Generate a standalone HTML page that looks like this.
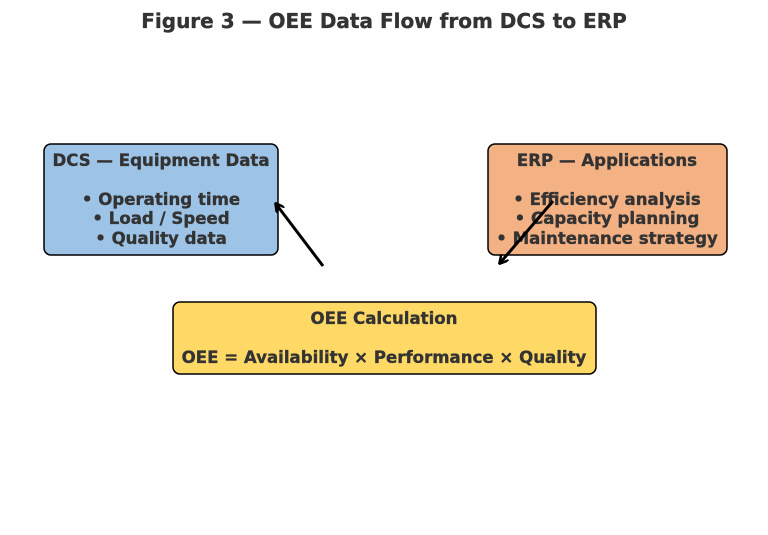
<!DOCTYPE html>
<html><head><meta charset="utf-8"><style>
html,body{margin:0;padding:0;background:#fefefe;}
svg{display:block;}
text{font-family:"DejaVu Sans","Liberation Sans",sans-serif;font-weight:bold;fill:#333;stroke:#333;stroke-width:0.35;}
</style></head><body>
<svg width="768" height="535" viewBox="0 0 768 535" xmlns="http://www.w3.org/2000/svg">
<defs>
<marker id="ah" markerWidth="10" markerHeight="10" refX="8" refY="5" orient="auto" markerUnits="userSpaceOnUse">
<path d="M0,0 L9,5 L0,10" fill="none" stroke="#000" stroke-width="2.5"/>
</marker>
</defs>
<text x="384" y="28" font-size="20" text-anchor="middle">Figure 3 — OEE Data Flow from DCS to ERP</text>
<rect x="44" y="144" width="234" height="111" rx="7" fill="#9dc3e6" stroke="#000" stroke-width="1.5"/>
<g font-size="16.6" text-anchor="middle">
<text x="161" y="166">DCS — Equipment Data</text>
<text x="161" y="205">• Operating time</text>
<text x="161" y="224">• Load / Speed</text>
<text x="161" y="244">• Quality data</text>
</g>
<rect x="488" y="144" width="239" height="111" rx="7" fill="#f4b183" stroke="#000" stroke-width="1.5"/>
<g font-size="16.6" text-anchor="middle">
<text x="607" y="166">ERP — Applications</text>
<text x="607" y="205">• Efficiency analysis</text>
<text x="607" y="224">• Capacity planning</text>
<text x="607" y="244">• Maintenance strategy</text>
</g>
<rect x="173" y="302" width="423" height="72" rx="7" fill="#ffd966" stroke="#000" stroke-width="1.5"/>
<g font-size="16.6" text-anchor="middle">
<text x="384" y="324">OEE Calculation</text>
<text x="384" y="363">OEE = Availability × Performance × Quality</text>
</g>
<line x1="323" y1="266" x2="276" y2="204" stroke="#000" stroke-width="3" marker-end="url(#ah)"/>
<line x1="553" y1="201" x2="500" y2="263" stroke="#000" stroke-width="3" marker-end="url(#ah)"/>
</svg>
</body></html>
